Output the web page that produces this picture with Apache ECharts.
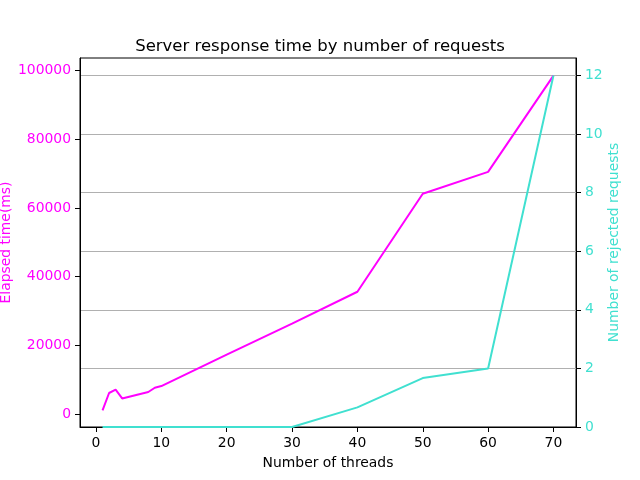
<!DOCTYPE html>
<html>
<head>
<meta charset="utf-8">
<script src="https://cdn.jsdelivr.net/npm/echarts@6/dist/echarts.min.js"></script>
<style>
    html, body {margin: 0; padding: 0; background: #fff;}
    #chart {width: 640px; height: 480px;}
</style>
</head>
<body>
<div id="chart"></div>
<script>
// values
const threads = [1, 2, 3, 4, 8, 9, 10, 20, 30, 40, 50, 60, 70]
const elapsedMs = [1050, 6100, 7060, 4530, 6390, 7640, 8130, 17300, 26300, 35600, 64150, 70520, 98550]
const rejected = [0, 0, 0, 0, 0, 0, 0, 0, 0, 0.67, 1.67, 2, 12]

const xTicks = [0, 10, 20, 30, 40, 50, 60, 70]
const leftTicks = [0, 20000, 40000, 60000, 80000, 100000]
const rightTicks = [0, 2, 4, 6, 8, 10, 12]

const MAGENTA = '#ff00ff'
const TURQ = '#40e0d0'
const FONT = 'DejaVu Sans'

let chart = echarts.init(document.getElementById('chart'), null, {renderer: 'canvas'})

const pairs = (xs, ys) => xs.map((x, i) => [x, ys[i]])
const plain = (v) => String(v)

chart.setOption({
    animation: false,
    backgroundColor: '#fff',
    title: {
        text: 'Server response time by number of requests',
        left: 'center',
        top: 33,
        textStyle: {fontFamily: FONT, fontSize: 16.5, fontWeight: 'normal', color: '#000'}
    },
    grid: {
        left: 80, right: 64, top: 58, bottom: 53,
        containLabel: false,
        outerBoundsMode: 'none',
        show: true, borderColor: '#000', borderWidth: 1, backgroundColor: '#fff'
    },
    xAxis: {
        type: 'value',
        min: -2.45,
        max: 73.45,
        name: 'Number of threads',
        nameLocation: 'middle',
        nameGap: 29,
        nameMoveOverlap: false,
        nameTextStyle: {fontFamily: FONT, fontSize: 13.9, color: '#000'},
        axisLine: {show: true, onZero: false, lineStyle: {color: '#000', width: 1}},
        axisTick: {show: true, length: 5, customValues: xTicks, lineStyle: {color: '#000'}},
        axisLabel: {customValues: xTicks, formatter: plain, margin: 9, fontFamily: FONT, fontSize: 13.9, color: '#000'},
        splitLine: {show: false}
    },
    yAxis: [
        {
            type: 'value',
            position: 'left',
            min: -3800,
            max: 103700,
            name: 'Elapsed time(ms)',
            nameLocation: 'middle',
            nameGap: 67,
            nameMoveOverlap: false,
            nameTextStyle: {fontFamily: FONT, fontSize: 13.9, color: MAGENTA},
            axisLine: {show: true, onZero: false, lineStyle: {color: '#000', width: 1}},
            axisTick: {show: true, length: 5, customValues: leftTicks, lineStyle: {color: '#000'}},
            axisLabel: {customValues: leftTicks, formatter: plain, margin: 9, fontFamily: FONT, fontSize: 13.9, color: MAGENTA},
            splitLine: {show: false}
        },
        {
            type: 'value',
            position: 'right',
            min: 0,
            max: 12.6,
            name: 'Number of rejected requests',
            nameLocation: 'middle',
            nameGap: 31,
            nameMoveOverlap: false,
            nameTextStyle: {fontFamily: FONT, fontSize: 13.9, color: TURQ},
            axisLine: {show: true, onZero: false, lineStyle: {color: '#000', width: 1}},
            axisTick: {show: true, length: 5, customValues: rightTicks, lineStyle: {color: '#000'}},
            axisLabel: {customValues: rightTicks, formatter: plain, margin: 9, fontFamily: FONT, fontSize: 13.9, color: TURQ},
            splitLine: {show: true, lineStyle: {color: '#b0b0b0', width: 1}}
        }
    ],
    series: [
        {
            type: 'line',
            yAxisIndex: 0,
            data: pairs(threads, elapsedMs),
            showSymbol: false,
            lineStyle: {color: MAGENTA, width: 2},
            itemStyle: {color: MAGENTA},
            z: 3
        },
        {
            type: 'line',
            yAxisIndex: 1,
            data: pairs(threads, rejected),
            showSymbol: false,
            lineStyle: {color: TURQ, width: 2},
            itemStyle: {color: TURQ},
            z: 4
        }
    ]
})
</script>
</body>
</html>
